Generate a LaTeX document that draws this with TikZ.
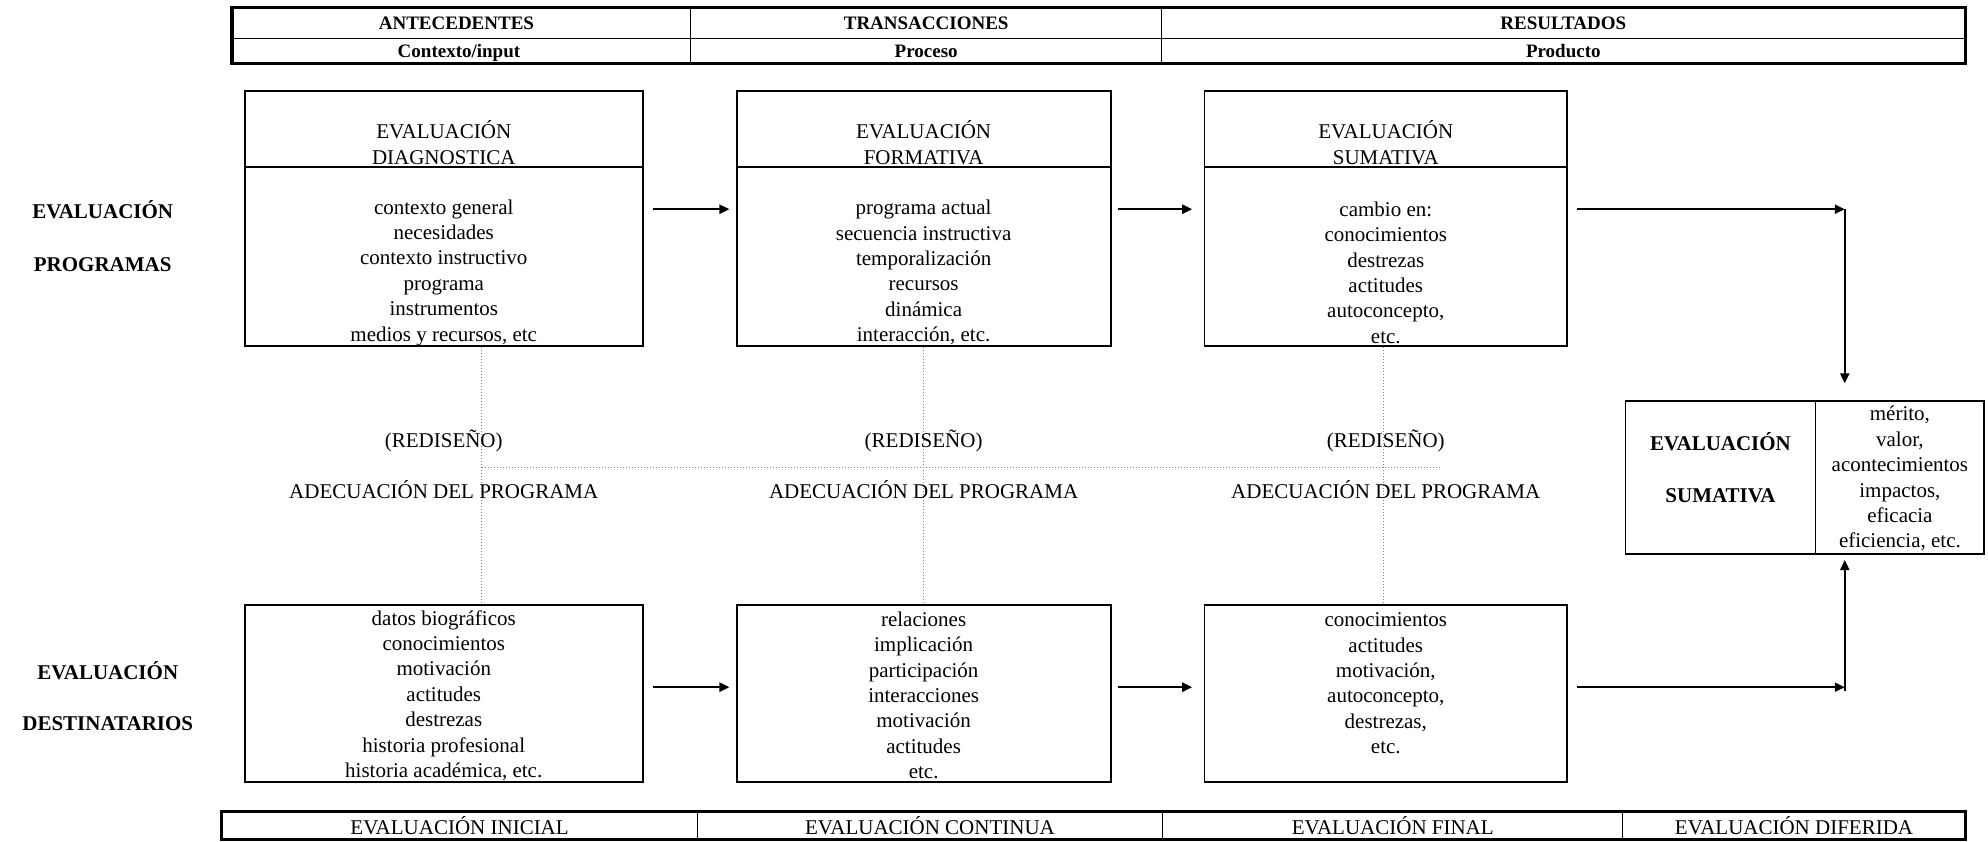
\documentclass[tikz,border=0pt]{standalone}
\usepackage{fontspec}
\setmainfont{Liberation Serif}
\usetikzlibrary{arrows.meta,positioning,fit,calc}

\begin{document}
\begin{tikzpicture}[x=0.634pt, y=-0.634pt,
  every node/.style={font=\fontsize{10.5}{12.7}\selectfont, align=center, inner sep=0pt},
  evalbox/.style={draw, line width=0.9pt, inner sep=0pt},
  headfont/.style={font=\fontsize{9.5}{11}\selectfont\bfseries, anchor=base},
  rowlabel/.style={font=\fontsize{10.5}{12.7}\selectfont\bfseries},
  arrowline/.style={line width=0.9pt, -{Triangle[length=5pt,width=4.6pt]}},
  redline/.style={gray, densely dotted, line width=0.5pt}]

\useasboundingbox (0,0) rectangle (1568,664);

% top table
\draw[line width=0.5pt] (183,30) -- (1550,30) (545,6) -- (545,50) (916,6) -- (916,50);
\draw[line width=1.6pt] (183,6) rectangle (1550,50);
\node[headfont] (h1) at (360,23) {ANTECEDENTES};
\node[headfont] (h2) at (730.5,23) {TRANSACCIONES};
\node[headfont] (h3) at (1233,23) {RESULTADOS};
\node[headfont] (h4) at (362,45.5) {Contexto/input};
\node[headfont] (h5) at (730.5,45.5) {Proceso};
\node[headfont] (h6) at (1233,45.5) {Producto};

% row labels
\node[rowlabel] (lprog) at (81,186) {EVALUACIÓN\\[13.9pt]PROGRAMAS};
\node[rowlabel] (ldest) at (85,549) {EVALUACIÓN\\[12.7pt]DESTINATARIOS};

% programas
\node[evalbox, fit={(193,72) (507,273)}] (p1) {};
\node[evalbox, fit={(581,72) (876,273)}] (p2) {};
\node[evalbox, fit={(950,72) (1236,273)}] (p3) {};
\foreach \b in {p1,p2,p3}
  \draw[line width=0.9pt] (\b.west |- 0,132) -- (\b.east |- 0,132);

\node (p1h) at (350,112.5) {EVALUACIÓN\\DIAGNOSTICA};
\node (p2h) at (728.5,112.5) {EVALUACIÓN\\FORMATIVA};
\node (p3h) at (1093,112.5) {EVALUACIÓN\\SUMATIVA};
\node (p1t) at (350,215) {contexto general\\necesidades\\contexto instructivo\\programa\\instrumentos\\medios y recursos, etc};
\node (p2t) at (728.5,215) {programa actual\\secuencia instructiva\\temporalización\\recursos\\dinámica\\interacción, etc.};
\node (p3t) at (1093,215) {cambio en:\\conocimientos\\destrezas\\actitudes\\autoconcepto,\\etc.};

% destinatarios
\node[evalbox, fit={(193,477) (507,617)}] (d1) {};
\node[evalbox, fit={(581,477) (876,617)}] (d2) {};
\node[evalbox, fit={(950,477) (1236,617)}] (d3) {};
\node (d1t) at (350,548.5) {datos biográficos\\conocimientos\\motivación\\actitudes\\destrezas\\historia profesional\\historia académica, etc.};
\node (d2t) at (728.5,548.5) {relaciones\\implicación\\participación\\interacciones\\motivación\\actitudes\\etc.};
\node (d3t) at (1093,539) {conocimientos\\actitudes\\motivación,\\autoconcepto,\\destrezas,\\etc.};

% rediseño
\draw[redline] (p1.south -| 380,0) -- (d1.north -| 380,0);
\draw[redline] (p2.south -| 728,0) -- (d2.north -| 728,0);
\draw[redline] (p3.south -| 1091,0) -- (d3.north -| 1091,0);
\draw[redline] (380,369) -- (1135,369);
\foreach \cx/\nm in {350/a,728.5/b,1093/c} {
  \node (red\nm) at (\cx,348) {(REDISEÑO)};
  \node (ade\nm) at (\cx,386) {ADECUACIÓN DEL PROGRAMA};
}

% evaluacion sumativa
\node[evalbox, fit={(1282,316) (1565,437)}] (sum) {};
\draw[line width=0.9pt] (sum.north -| 1432,0) -- (sum.south -| 1432,0);
\node[rowlabel] (sumL) at (1357,368.5) {EVALUACIÓN\\[13.3pt]SUMATIVA};
\node (sumR) at (1498.5,377.5) {mérito,\\valor,\\acontecimientos\\impactos,\\eficacia\\eficiencia, etc.};

% arrows
\coordinate (ya) at (0,165);
\coordinate (yb) at (0,542);
\coordinate (esq1) at (1455,165);
\coordinate (esq2) at (1455,542);
\draw[arrowline] ($(p1.east |- ya)+(7,0)$) -- ($(p2.west |- ya)+(-5,0)$);
\draw[arrowline] ($(p2.east |- ya)+(5,0)$) -- ($(p3.west |- ya)+(-9,0)$);
\draw[arrowline] ($(p3.east |- ya)+(7,0)$) -- (esq1);
\draw[arrowline] (esq1) -- ($(sum.north -| esq1)+(0,-13)$);
\draw[arrowline] ($(d1.east |- yb)+(7,0)$) -- ($(d2.west |- yb)+(-5,0)$);
\draw[arrowline] ($(d2.east |- yb)+(5,0)$) -- ($(d3.west |- yb)+(-9,0)$);
\draw[arrowline] ($(d3.east |- yb)+(7,0)$) -- (esq2);
\draw[arrowline] ($(esq2)+(0,3)$) -- ($(sum.south -| esq2)+(0,4)$);

% bottom table
\draw[line width=0.5pt] (550,640) -- (550,662) (917,640) -- (917,662) (1280,640) -- (1280,662);
\draw[line width=1.6pt] (175,640) rectangle (1550,662);
\node (b1) at (362.5,651) {EVALUACIÓN INICIAL};
\node (b2) at (733.5,651) {EVALUACIÓN CONTINUA};
\node (b3) at (1098.5,651) {EVALUACIÓN FINAL};
\node (b4) at (1415,651) {EVALUACIÓN DIFERIDA};

\end{tikzpicture}
\end{document}
